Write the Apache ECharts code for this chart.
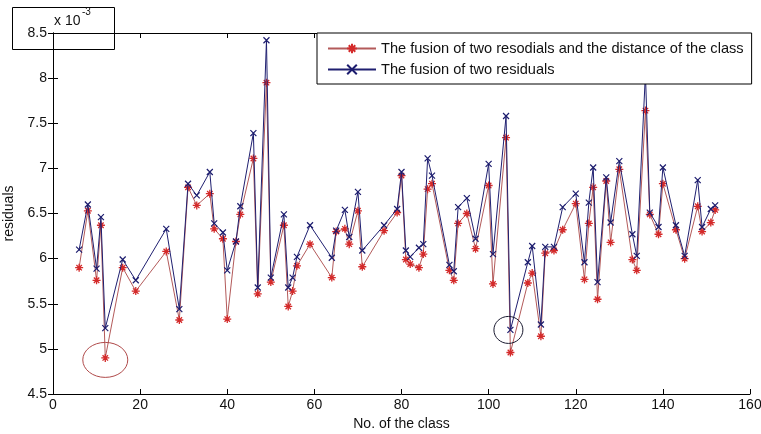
<!DOCTYPE html>
<html><head><meta charset="utf-8">
<script src="https://cdn.jsdelivr.net/npm/echarts@6/dist/echarts.min.js"></script>
<style>html,body{margin:0;padding:0;background:#fff}#c{width:761px;height:434px}</style>
</head><body><div id="c"></div>
<script>
// Class numbers (x)
const classNo = [6,8,10,11,12,16,19,26,29,31,33,36,37,39,40,42,43,46,47,49,50,53,54,55,56,59,64,65,67,68,70,71,76,79,80,81,82,84,85,86,87,91,92,93,95,97,100,101,104,105,109,110,112,113,115,117,120,122,123,124,125,127,128,130,133,134,136,137,139,140,143,145,148,149,151,152];
// residuals, in units of 1e-3
const fusionWithDistance = [5.90,6.53,5.76,6.37,4.90,5.90,5.64,6.08,5.32,6.79,6.59,6.72,6.33,6.22,5.33,6.19,6.49,7.11,5.61,7.95,5.74,6.37,5.47,5.64,5.92,6.16,5.79,6.30,6.33,6.16,6.53,5.91,6.31,6.51,6.92,5.99,5.94,5.90,6.05,6.77,6.83,5.87,5.76,6.39,6.50,6.11,6.81,5.72,7.34,4.96,5.73,5.84,5.14,6.06,6.09,6.32,6.61,5.77,6.39,6.79,5.55,6.86,6.18,6.99,5.99,5.87,7.64,6.49,6.27,6.83,6.32,6.00,6.58,6.30,6.40,6.54];
const fusionTwo = [6.10,6.60,5.89,6.46,5.23,5.99,5.76,6.33,5.44,6.83,6.70,6.96,6.39,6.29,5.87,6.19,6.58,7.39,5.68,8.42,5.79,6.49,5.68,5.79,6.02,6.37,6.01,6.31,6.54,6.24,6.74,6.09,6.37,6.55,6.96,6.09,6.02,6.12,6.16,7.11,6.92,5.93,5.86,6.57,6.67,6.22,7.05,6.05,7.58,5.21,5.96,6.14,5.27,6.13,6.13,6.57,6.72,5.96,6.62,7.01,5.74,6.90,6.40,7.08,6.27,6.03,8.05,6.51,6.35,7.01,6.37,6.03,6.87,6.35,6.55,6.59];
const seriesNames = ['The fusion of two resodials and the distance of the class','The fusion of two residuals'];
const xRange = [0, 160, 20];
const yRange = [4.5, 8.5, 0.5];

const FONT = "'Liberation Sans', Arial, sans-serif";
const chart = echarts.init(document.getElementById('c'), null, {renderer:'canvas'});
const pairs = (ys) => classNo.map((x,i)=>[x, ys[i]]);
const axisCommon = {
  axisLine:{show:true, lineStyle:{color:'#000', width:1}},
  axisTick:{show:true, inside:true, length:5, lineStyle:{color:'#000'}},
  splitLine:{show:false}
};
chart.setOption({
  animation:false,
  backgroundColor:'#fff',
  grid:{left:53, right:11, top:33, bottom:40, containLabel:false, outerBoundsMode:'none'},
  xAxis:[
    Object.assign({type:'value', min:xRange[0], max:xRange[1], interval:xRange[2], position:'bottom',
      name:'No. of the class', nameLocation:'middle', nameGap:22,
      nameTextStyle:{fontFamily:FONT, fontSize:14, color:'#111'},
      axisLabel:{fontFamily:FONT, fontSize:14, color:'#111', margin:4}}, axisCommon),
    Object.assign({type:'value', min:xRange[0], max:xRange[1], interval:xRange[2], position:'top',
      axisLabel:{show:false}}, axisCommon)
  ],
  yAxis:[
    Object.assign({type:'value', min:yRange[0], max:yRange[1], interval:yRange[2], position:'left',
      name:'residuals', nameLocation:'middle', nameGap:31,
      nameTextStyle:{fontFamily:FONT, fontSize:14, color:'#111'},
      axisLabel:{fontFamily:FONT, fontSize:14, color:'#111', margin:6}}, axisCommon),
    Object.assign({type:'value', min:yRange[0], max:yRange[1], interval:yRange[2], position:'right',
      axisLabel:{show:false}}, axisCommon)
  ],
  legend:{
    orient:'vertical', left:317, top:33,
    backgroundColor:'#fff', borderColor:'#000', borderWidth:1, borderRadius:0,
    padding:[7,8,6,10], itemGap:4, itemWidth:48, itemHeight:12,
    textStyle:{fontFamily:FONT, fontSize:14.6, color:'#111', lineHeight:17},
    selectedMode:false,
    data:seriesNames
  },
  series:[
    {name:seriesNames[0], type:'line', data:pairs(fusionWithDistance), showAllSymbol:true,
     symbol:'path://M5,0L5,10M0,5L10,5M1.6,1.6L8.4,8.4M1.6,8.4L8.4,1.6', symbolSize:8,
     lineStyle:{color:'#b35a5a', width:1},
     itemStyle:{color:'rgba(0,0,0,0)', borderColor:'#d42a2a', borderWidth:1.3},
     emphasis:{disabled:true}, z:2},
    {name:seriesNames[1], type:'line', data:pairs(fusionTwo), showAllSymbol:true,
     symbol:'path://M0,0L10,10M0,10L10,0', symbolSize:6,
     lineStyle:{color:'#1f1f70', width:1},
     itemStyle:{color:'rgba(0,0,0,0)', borderColor:'#1c1c6e', borderWidth:1.2},
     emphasis:{disabled:true}, z:3}
  ]
});
// annotations centred on data points
const pRed = chart.convertToPixel({gridIndex:0}, [classNo[4], fusionWithDistance[4]]);
const pBlue = chart.convertToPixel({gridIndex:0}, [classNo[49], fusionTwo[49]]);
chart.setOption({
  graphic:[
    {type:'ellipse', shape:{cx:pRed[0], cy:pRed[1]+2, rx:22.5, ry:17.5}, style:{fill:'none', stroke:'#b04a4a', lineWidth:1}, z:10},
    {type:'ellipse', shape:{cx:pBlue[0]-2, cy:pBlue[1], rx:14.5, ry:13.5}, style:{fill:'none', stroke:'#1a1a30', lineWidth:1}, z:10},
    {type:'rect', shape:{x:12.5, y:7.5, width:102, height:42}, style:{fill:'none', stroke:'#000', lineWidth:1}, z:10},
    {type:'text', left:54, top:14, style:{text:'x 10', font:"14px " + FONT, fill:'#111'}, z:11},
    {type:'text', left:82, top:7, style:{text:'-3', font:"10px " + FONT, fill:'#111'}, z:11}
  ]
});
</script></body></html>
